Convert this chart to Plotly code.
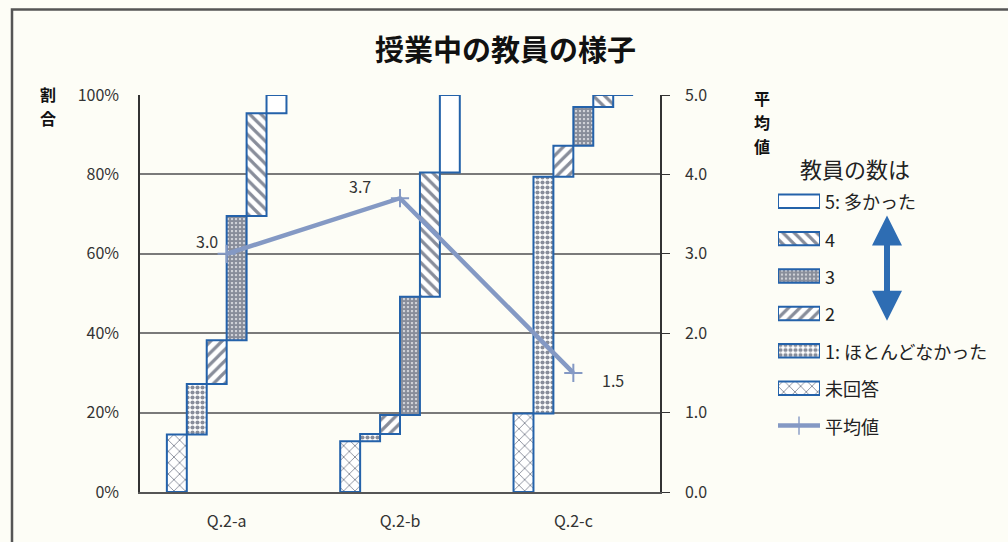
import plotly.graph_objects as go

# Survey results: share of answers per response level (%)
questions = ["Q.2-a", "Q.2-b", "Q.2-c"]
levels = ["未回答", "1", "2", "3", "4", "5"]
share_na = [14.5, 12.8, 19.8]
share_1 = [12.7, 1.8, 59.6]
share_2 = [11.0, 4.8, 7.8]
share_3 = [31.3, 29.8, 9.8]
share_4 = [25.9, 31.3, 3.0]
share_5 = [4.6, 19.5, 0.0]
mean_score = [3.0, 3.7, 1.5]

pct_ticks = [0, 20, 40, 60, 80, 100]
pct_labels = ["0%", "20%", "40%", "60%", "80%", "100%"]
mean_ticks = [0, 1, 2, 3, 4, 5]
mean_labels = ["0.0", "1.0", "2.0", "3.0", "4.0", "5.0"]

legend_labels = ["5: 多かった", "4", "3", "2", "1: ほとんどなかった", "未回答", "平均値"]

series = [share_na, share_1, share_2, share_3, share_4, share_5]

FONT = "Noto Sans CJK JP"
NAVY = "#111B36"
EDGE = "#2462AA"
MEAN_C = "#8499C4"
BG = "#FDFDF6"

# pattern per level (shape, size, solidity)
patterns = {
    "未回答": ("x", 8, 0.22),
    "1": (".", 5, 0.55),
    "2": ("/", 8, 0.4),
    "3": (".", 4, 0.8),
    "4": ("\\", 8, 0.4),
    "5": ("", 8, 0.3),
}

W, H = 1008, 542
ML, MR, MT, MB = 140, 10, 95, 48
PW, PH = W - ML - MR, H - MT - MB


def px_x(px):
    return (px - ML) / PW


def px_y(py):
    return (H - MB - py) / PH


def label(px, py, text, size, **kw):
    fig.add_annotation(x=px_x(px), y=px_y(py), xref="paper", yref="paper",
                       text=text, showarrow=False,
                       xanchor=kw.pop("xanchor", "center"),
                       yanchor=kw.pop("yanchor", "middle"),
                       font=dict(family=FONT, size=size, color=kw.pop("color", "#111111")),
                       **kw)


fig = go.Figure()

# staircase: each level drawn as its own column, starting where the previous ends
cum = [0.0] * len(questions)
for name, vals in zip(levels, series):
    shp, sz, sol = patterns[name]
    fig.add_trace(go.Bar(
        x=questions, y=vals, base=list(cum), name=name,
        marker=dict(color="white", line=dict(color=EDGE, width=2),
                    pattern=dict(shape=shp, size=sz, solidity=sol,
                                 fgcolor=NAVY, bgcolor="white")),
        showlegend=False, hoverinfo="skip",
    ))
    cum = [c + v for c, v in zip(cum, vals)]

# mean score line on the secondary axis
fig.add_trace(go.Scatter(
    x=questions, y=mean_score, yaxis="y2", mode="lines+markers",
    line=dict(color=MEAN_C, width=4.5),
    marker=dict(symbol="cross-thin-open", size=13, line=dict(color=MEAN_C, width=2)),
    showlegend=False, hoverinfo="skip",
))

# value labels for the mean line
label_shift = [(-20, 13), (-40, 12), (40, -7)]
for q, m, (dx, dy) in zip(questions, mean_score, label_shift):
    fig.add_annotation(x=q, y=m, xref="x", yref="y2", text=f"{m:.1f}",
                       showarrow=False, xshift=dx, yshift=dy,
                       font=dict(family=FONT, size=16, color="#333333"))

# legend swatches drawn as bars on a hidden axis pair
sw_order = ["5", "4", "3", "2", "1", "未回答"]
fig.add_trace(go.Bar(
    x=[1] * 6, y=[6, 5, 4, 3, 2, 1], orientation="h", width=0.36,
    xaxis="x3", yaxis="y3",
    marker=dict(color="white", line=dict(color=EDGE, width=2),
                pattern=dict(shape=[patterns[k][0] for k in sw_order],
                             size=[patterns[k][1] for k in sw_order],
                             solidity=[patterns[k][2] for k in sw_order],
                             fgcolor=NAVY, bgcolor="white")),
    showlegend=False, hoverinfo="skip",
))
fig.add_trace(go.Scatter(
    x=[0, 0.5, 1], y=[0, 0, 0], xaxis="x3", yaxis="y3", mode="lines+markers",
    line=dict(color=MEAN_C, width=4.5),
    marker=dict(symbol="cross-thin-open", size=[0, 13, 0], line=dict(color=MEAN_C, width=2)),
    showlegend=False, hoverinfo="skip",
))
for i, lab in enumerate(legend_labels):
    fig.add_annotation(x=1.0, y=6 - i, xref="x3", yref="y3", text=lab,
                       showarrow=False, xanchor="left", yanchor="middle", xshift=3,
                       font=dict(family=FONT, size=18, color="#222222"))

label(855, 168, "教員の数は", 22, color="#222222")

# double-headed arrow between 多かった and ほとんどなかった
for tip_y, tail_off in [(216, 56), (322, -56)]:
    fig.add_annotation(x=px_x(887), y=px_y(tip_y), xref="paper", yref="paper",
                       ax=0, ay=tail_off, axref="pixel", ayref="pixel",
                       showarrow=True, arrowhead=2, arrowsize=1.0,
                       arrowwidth=6, arrowcolor="#2E6DB3", text="")

# chart title and axis titles (vertical text, one glyph per line)
label(505, 48, "<b>授業中の教員の様子</b>", 29)
for k, ch in enumerate("割合"):
    label(48, 94 + 24 * k, f"<b>{ch}</b>", 16)
for k, ch in enumerate("平均値"):
    label(762, 98 + 24 * k, f"<b>{ch}</b>", 16)

# outer chart frame
fig.add_shape(type="rect", xref="paper", yref="paper",
              x0=px_x(12), x1=px_x(1040), y0=px_y(9), y1=px_y(580),
              line=dict(color="#555555", width=2.5))

main_x_end = 520 / PW

fig.update_layout(
    width=W, height=H,
    margin=dict(l=ML, r=MR, t=MT, b=MB),
    paper_bgcolor=BG, plot_bgcolor=BG,
    barmode="group", bargap=0.31, bargroupgap=0,
    font=dict(family=FONT, size=16, color="#333333"),
    xaxis=dict(domain=[0, main_x_end], range=[-0.5, 2.5], showgrid=False,
               showline=True, linecolor="#555555", linewidth=1.5,
               ticks="", ticklabelstandoff=14, tickfont=dict(size=16)),
    yaxis=dict(range=[0, 100], tickvals=pct_ticks, ticktext=pct_labels,
               showgrid=True, gridcolor="#7A7A7A", gridwidth=1.5,
               showline=True, linecolor="#333333", linewidth=1.5,
               ticks="", ticklabelstandoff=16, zeroline=False,
               tickfont=dict(size=16)),
    yaxis2=dict(range=[0, 5], tickvals=mean_ticks, ticktext=mean_labels,
                overlaying="y", side="right", anchor="x", showgrid=False,
                showline=True, linecolor="#333333", linewidth=1.5,
                ticks="outside", ticklen=8, tickcolor="#333333",
                ticklabelstandoff=12, zeroline=False, tickfont=dict(size=16)),
    xaxis3=dict(domain=[px_x(778), px_x(820)], range=[0, 1], anchor="y3",
                visible=False, fixedrange=True),
    yaxis3=dict(domain=[px_y(446), px_y(183)], range=[-0.5, 6.5], anchor="x3",
                visible=False, fixedrange=True),
    showlegend=False,
)

fig.write_html("out.html")
